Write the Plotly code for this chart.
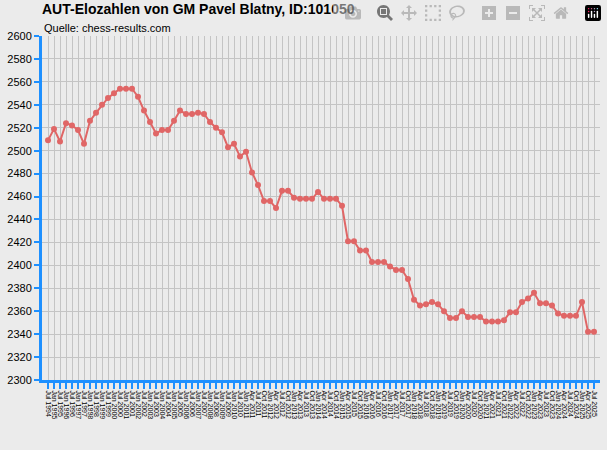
import plotly.graph_objects as go

# rating list dates (estimated labels)
dates = ['Jul 1994']
for y in range(1995, 2011):
    dates += ['Jan %d' % y, 'Jul %d' % y]
dates += ['Jan 2011']
for y in range(2011, 2026):
    for m in ['Jan', 'Apr', 'Jul', 'Oct']:
        if y == 2011 and m == 'Jan':
            continue
        if y == 2025 and m == 'Oct':
            continue
        dates.append('%s %d' % (m, y))

elo = [2509, 2519, 2508, 2524, 2522, 2518, 2506, 2526, 2533, 2540, 2546, 2550,
       2554, 2554, 2554, 2547, 2535, 2525, 2515, 2518, 2518, 2526, 2535, 2532,
       2532, 2533, 2532, 2525, 2520, 2516, 2503, 2506,
       2495, 2499, 2481, 2470, 2456, 2456, 2450, 2465, 2465, 2459, 2458, 2458,
       2458, 2464, 2458, 2458, 2458, 2452, 2421, 2421, 2413, 2413, 2403, 2403,
       2403, 2399, 2396, 2396, 2388,
       2370,
       2365, 2366, 2368, 2366, 2360, 2354, 2354, 2360, 2355, 2355, 2355, 2351,
       2351, 2351, 2352, 2359, 2359, 2368, 2371, 2376, 2367, 2367, 2365, 2358,
       2356, 2356, 2356, 2368, 2342, 2342]

fig = go.Figure(go.Scatter(
    x=dates, y=elo, mode='lines+markers',
    line=dict(color='#e06666', width=2),
    marker=dict(color='#e06666', size=6),
))

fig.update_layout(
    width=607, height=450,
    paper_bgcolor='#ebebeb', plot_bgcolor='#ebebeb',
    margin=dict(l=42, r=7, t=36, b=70),
    showlegend=False,
    font=dict(family='Liberation Sans, Arial', color='black'),
    title=dict(text='<b>AUT-Elozahlen von GM Pavel Blatny, ID:101050</b>',
               x=42 / 607, xref='container', xanchor='left',
               y=0.99, yref='container', yanchor='top',
               font=dict(size=14)),
    annotations=[dict(text='Quelle: chess-results.com', xref='paper', yref='paper',
                      x=0, y=1.0, xanchor='left', yanchor='bottom',
                      showarrow=False, font=dict(size=11))],
)
fig.update_xaxes(
    type='category', range=[-1, len(dates)], tickangle=90,
    tickmode='array', tickvals=dates, ticktext=dates,
    tickfont=dict(size=7), showgrid=True, gridcolor='#c4c4c4',
    showline=True, linecolor='#1e90ff', linewidth=3,
    ticks='outside', tickcolor='#1e90ff', ticklen=6, tickwidth=2,
)
fig.update_yaxes(
    range=[2300, 2600], dtick=20, tickfont=dict(size=11),
    showgrid=True, gridcolor='#c4c4c4',
    showline=True, linecolor='#1e90ff', linewidth=3,
    ticks='outside', tickcolor='#1e90ff', ticklen=5, tickwidth=2,
    zeroline=False,
)

fig.write_html('out.html', post_script="document.body.style.margin='0';")
